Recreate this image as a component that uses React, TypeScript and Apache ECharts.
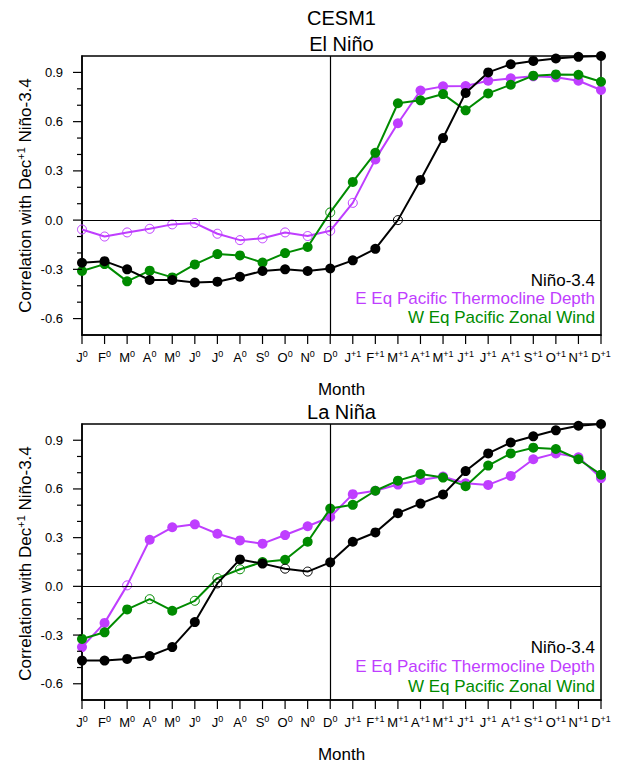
import React, { useEffect, useRef } from "react";
import * as echarts from "echarts";

// Month axis: Jan of year 0 through Dec of year +1
const monthNames = ["Jan", "Feb", "Mar", "Apr", "May", "Jun", "Jul", "Aug", "Sep", "Oct", "Nov", "Dec"];
const yearTags = ["0", "+1"];
const months = yearTags.flatMap((y) => monthNames.map((m) => m + y));

const majorTicks = [-0.6, -0.3, 0.0, 0.3, 0.6, 0.9];
const minorTicks = [-0.5, -0.4, -0.2, -0.1, 0.1, 0.2, 0.4, 0.5, 0.7, 0.8];

const seriesNames = ["Niño-3.4", "E Eq Pacific Thermocline Depth", "W Eq Pacific Zonal Wind"];
const seriesColors = ["#000000", "#bf3eff", "#008b00"];

// El Niño composites
const elNinoNino34 = [-0.26, -0.25, -0.30, -0.365, -0.365, -0.38, -0.375, -0.345, -0.31, -0.30, -0.31, -0.295, -0.245, -0.175, 0.0, 0.245, 0.50, 0.775, 0.90, 0.95, 0.97, 0.985, 0.995, 1.0];
const elNinoThermo = [-0.057, -0.10, -0.075, -0.053, -0.026, -0.018, -0.083, -0.122, -0.111, -0.075, -0.097, -0.065, 0.105, 0.37, 0.59, 0.79, 0.815, 0.817, 0.849, 0.864, 0.876, 0.87, 0.849, 0.793];
const elNinoWind = [-0.31, -0.268, -0.373, -0.308, -0.349, -0.27, -0.207, -0.215, -0.259, -0.201, -0.164, 0.047, 0.233, 0.41, 0.712, 0.73, 0.768, 0.669, 0.772, 0.825, 0.88, 0.888, 0.886, 0.843];
// 1 = not significant (hollow marker)
const elNinoNino34Open = [0, 0, 0, 0, 0, 0, 0, 0, 0, 0, 0, 0, 0, 0, 1, 0, 0, 0, 0, 0, 0, 0, 0, 0];
const elNinoThermoOpen = [1, 1, 1, 1, 1, 1, 1, 1, 1, 1, 1, 1, 1, 0, 0, 0, 0, 0, 0, 0, 0, 0, 0, 0];
const elNinoWindOpen = [0, 0, 0, 0, 0, 0, 0, 0, 0, 0, 0, 1, 0, 0, 0, 0, 0, 0, 0, 0, 0, 0, 0, 0];

// La Niña composites
const laNinaNino34 = [-0.457, -0.457, -0.447, -0.429, -0.374, -0.22, 0.018, 0.166, 0.14, 0.109, 0.091, 0.148, 0.275, 0.332, 0.451, 0.51, 0.566, 0.71, 0.819, 0.886, 0.924, 0.961, 0.989, 1.0];
const laNinaThermo = [-0.374, -0.225, 0.006, 0.287, 0.364, 0.382, 0.324, 0.283, 0.263, 0.316, 0.37, 0.427, 0.568, 0.589, 0.627, 0.655, 0.676, 0.635, 0.625, 0.68, 0.783, 0.819, 0.795, 0.667];
const laNinaWind = [-0.324, -0.283, -0.142, -0.079, -0.15, -0.089, 0.051, 0.105, 0.15, 0.164, 0.275, 0.479, 0.502, 0.589, 0.651, 0.692, 0.67, 0.617, 0.744, 0.819, 0.854, 0.846, 0.783, 0.688];
const laNinaNino34Open = [0, 0, 0, 0, 0, 0, 1, 0, 0, 1, 1, 0, 0, 0, 0, 0, 0, 0, 0, 0, 0, 0, 0, 0];
const laNinaThermoOpen = [0, 0, 1, 0, 0, 0, 0, 0, 0, 0, 0, 0, 0, 0, 0, 0, 0, 0, 0, 0, 0, 0, 0, 0];
const laNinaWindOpen = [0, 0, 0, 1, 0, 1, 1, 1, 0, 0, 0, 0, 0, 0, 0, 0, 0, 0, 0, 0, 0, 0, 0, 0];

const FONT = "'Liberation Sans', Arial, Helvetica, sans-serif";
const W = 618;
const H = 764;
const PLOT_LEFT = 82;
const PLOT_W = 519;
const PLOT_H = 279;
const PANEL_TOPS = [56, 424];
const Y_MIN = -0.7;
const Y_MAX = 1.0;

function points(values: number[], open: number[], color: string) {
  return values.map((v, i) =>
    open[i]
      ? { value: v, symbolSize: 9, itemStyle: { color: "rgba(0,0,0,0)", borderColor: color, borderWidth: 1 } }
      : { value: v, symbolSize: 10, itemStyle: { color, borderWidth: 0 } }
  );
}

function buildOption() {
  const panels = [
    { values: [elNinoNino34, elNinoThermo, elNinoWind], open: [elNinoNino34Open, elNinoThermoOpen, elNinoWindOpen] },
    { values: [laNinaNino34, laNinaThermo, laNinaWind], open: [laNinaNino34Open, laNinaThermoOpen, laNinaWindOpen] },
  ];

  const grid = PANEL_TOPS.map((top) => ({
    left: PLOT_LEFT,
    top,
    width: PLOT_W,
    height: PLOT_H,
    show: true,
    borderColor: "#000",
    borderWidth: 1.5,
    backgroundColor: "transparent",
  }));

  const xAxis = PANEL_TOPS.map((_, g) => ({
    type: "category",
    gridIndex: g,
    position: "bottom",
    data: months,
    boundaryGap: false,
    axisLine: { show: true, onZero: false, lineStyle: { color: "#000", width: 1.5 } },
    axisTick: { show: false },
    axisLabel: {
      interval: 0,
      margin: 14,
      formatter: (v: string) => `{b|${v[0]}}{s|${v.slice(3)}}`,
      rich: {
        b: { fontSize: 13, fontFamily: FONT, color: "#000", lineHeight: 16 },
        s: { fontSize: 9, fontFamily: FONT, color: "#000", lineHeight: 10, verticalAlign: "top" },
      },
    },
    splitLine: { show: false },
    name: "Month",
    nameLocation: "middle",
    nameGap: 46,
    nameTextStyle: { fontSize: 17, fontFamily: FONT, color: "#000" },
  }));

  const yAxis = PANEL_TOPS.map((_, g) => ({
    type: "value",
    gridIndex: g,
    position: "left",
    min: Y_MIN,
    max: Y_MAX,
    axisLine: { show: true, onZero: false, lineStyle: { color: "#000", width: 1.5 } },
    axisTick: { show: false },
    axisLabel: {
      customValues: majorTicks,
      formatter: (v: number) => v.toFixed(1),
      margin: 19,
      fontSize: 13,
      fontFamily: FONT,
      color: "#000",
    },
    splitLine: { show: false },
  }));

  const series: any[] = [];
  panels.forEach((p, g) => {
    // drawing order: thermocline, wind, Niño-3.4 on top
    [1, 2, 0].forEach((k, n) => {
      series.push({
        type: "line",
        name: seriesNames[k],
        xAxisIndex: g,
        yAxisIndex: g,
        data: points(p.values[k], p.open[k], seriesColors[k]),
        symbol: "circle",
        showAllSymbol: true,
        lineStyle: { color: seriesColors[k], width: 2 },
        itemStyle: { color: seriesColors[k] },
        emphasis: { disabled: true },
        silent: true,
        z: 3 + n,
        markLine:
          n === 0
            ? {
                silent: true,
                symbol: "none",
                label: { show: false },
                animation: false,
                lineStyle: { color: "#000", width: 1.2, type: "solid" },
                emphasis: { disabled: true },
                data: [{ yAxis: 0 }, { xAxis: "Dec0" }],
              }
            : undefined,
      });
    });
  });

  return {
    animation: false,
    backgroundColor: "#fff",
    grid,
    xAxis,
    yAxis,
    series,
  };
}

const text = (x: number, y: number, s: string, size: number, color: string, align: string, extra: any = {}) => ({
  type: "text",
  x,
  y,
  silent: true,
  z: 10,
  ...extra,
  style: {
    text: s,
    fontSize: size,
    fontFamily: FONT,
    fill: color,
    align,
    verticalAlign: "middle",
    textAlign: align,
    textVerticalAlign: "middle",
    ...(extra.style || {}),
  },
});

// titles, axis titles, legend text and outward tick marks
function buildGraphic(chart: any) {
  const center = PLOT_LEFT + PLOT_W / 2;
  const graphic: any[] = [
    text(center, 18, "CESM1", 20, "#000", "center"),
    text(center, 44, "El Niño", 20, "#000", "center"),
    text(center, 412, "La Niña", 20, "#000", "center"),
  ];
  PANEL_TOPS.forEach((top) => {
    graphic.push(
      text(25, top + PLOT_H / 2, "Correlation with Dec{s|+1} Niño-3.4", 17, "#000", "center", {
        rotation: Math.PI / 2,
        style: {
          rich: { s: { fontSize: 11, fontFamily: FONT, fill: "#000", lineHeight: 12, verticalAlign: "top" } },
          lineHeight: 20,
        },
      })
    );
  });
  const legendY = [
    [280, 298.5, 317],
    [647, 666.5, 686],
  ];
  legendY.forEach((ys) => {
    ys.forEach((y, k) => graphic.push(text(595, y, seriesNames[k], 17, seriesColors[k], "right")));
  });

  // tick positions from the grid's own coordinate conversion
  const toPixel = (g: number, xv: number, yv: number) => {
    let c: any = null;
    try {
      c = chart.convertToPixel({ gridIndex: g }, [xv, yv]);
    } catch (e) {
      c = null;
    }
    if (!c || !isFinite(c[0]) || !isFinite(c[1])) {
      c = [
        PLOT_LEFT + (xv / (months.length - 1)) * PLOT_W,
        PANEL_TOPS[g] + ((Y_MAX - yv) / (Y_MAX - Y_MIN)) * PLOT_H,
      ];
    }
    return c;
  };
  const bar = (x: number, y: number, w: number, h: number) => ({
    type: "rect",
    silent: true,
    z: 10,
    shape: { x, y, width: w, height: h },
    style: { fill: "#000" },
  });
  PANEL_TOPS.forEach((_, g) => {
    months.forEach((_m, i) => {
      const c = toPixel(g, i, Y_MIN);
      graphic.push(bar(c[0] - 0.6, c[1], 1.2, 9));
    });
    majorTicks.forEach((v) => {
      const c = toPixel(g, 0, v);
      graphic.push(bar(c[0] - 9, c[1] - 0.6, 9, 1.2));
    });
    minorTicks.forEach((v) => {
      const c = toPixel(g, 0, v);
      graphic.push(bar(c[0] - 5, c[1] - 0.6, 5, 1.2));
    });
  });
  return graphic;
}

export default function App() {
  const ref = useRef<HTMLDivElement>(null);
  useEffect(() => {
    if (!ref.current) return;
    const chart = echarts.init(ref.current, undefined, { renderer: "svg", width: W, height: H });
    chart.setOption(buildOption() as any);
    chart.setOption({ graphic: buildGraphic(chart) } as any);
    return () => chart.dispose();
  }, []);
  return <div ref={ref} style={{ position: "absolute", left: 0, top: 0, width: W, height: H }} />;
}
